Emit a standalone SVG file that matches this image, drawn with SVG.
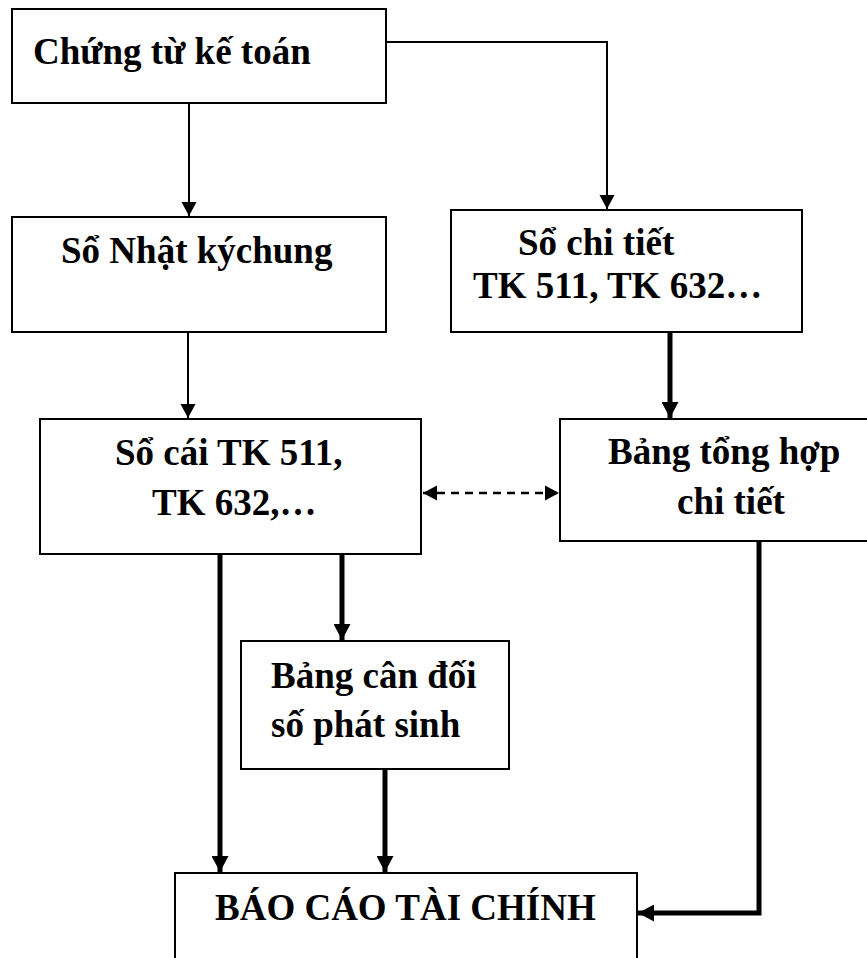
<svg xmlns="http://www.w3.org/2000/svg" width="867" height="958" viewBox="0 0 867 958">
  <defs>
    <style>
      .box { fill: #ffffff; stroke: #000000; stroke-width: 2; }
      .lbl { font-family: "Liberation Serif", "Times New Roman", serif; font-weight: bold; font-size: 37px; fill: #000000; }
      .thin { fill: none; stroke: #000000; stroke-width: 2; }
      .thick { fill: none; stroke: #000000; stroke-width: 5; }
      .dash { fill: none; stroke: #000000; stroke-width: 2.5; stroke-dasharray: 8 6; }
    </style>
    <marker id="tip" viewBox="0 0 14 16" refX="14" refY="8" markerWidth="14" markerHeight="16" markerUnits="userSpaceOnUse" orient="auto-start-reverse">
      <path d="M0,0.5 L14,8 L0,15.5 Z" fill="#000000"/>
    </marker>
    <marker id="tipL" viewBox="0 0 16 17" refX="16" refY="8.5" markerWidth="16" markerHeight="17" markerUnits="userSpaceOnUse" orient="auto-start-reverse">
      <path d="M0,0 L16,8.5 L0,17 Z" fill="#000000"/>
    </marker>
  </defs>

  <rect width="867" height="958" fill="#ffffff"/>

  <!-- connectors -->
  <g id="connectors">
    <path class="thin" d="M386,42 H607 V209" marker-end="url(#tip)"/>
    <path class="thin" d="M189,103 V216" marker-end="url(#tip)"/>
    <path class="thin" d="M188,332 V418" marker-end="url(#tip)"/>
    <path class="thick" d="M670,332 V418" marker-end="url(#tipL)"/>
    <path class="dash" d="M423,493 H559" marker-start="url(#tip)" marker-end="url(#tip)"/>
    <path class="thick" d="M342,554 V640" marker-end="url(#tipL)"/>
    <path class="thick" d="M220,554 V872" marker-end="url(#tipL)"/>
    <path class="thick" d="M385,769 V872" marker-end="url(#tipL)"/>
    <path class="thick" d="M759,540 V913 H638" marker-end="url(#tipL)"/>
  </g>

  <g id="chung-tu">
    <rect class="box" x="12" y="9" width="374" height="94"/>
    <text class="lbl" x="33" y="64">Chứng từ kế toán</text>
  </g>

  <g id="nhat-ky-chung">
    <rect class="box" x="12" y="217" width="374" height="115"/>
    <text class="lbl" x="61" y="263">Sổ Nhật kýchung</text>
  </g>

  <g id="so-chi-tiet">
    <rect class="box" x="451" y="210" width="351" height="122"/>
    <text class="lbl" x="518" y="255">Sổ chi tiết</text>
    <text class="lbl" x="473" y="298">TK 511, TK 632…</text>
  </g>

  <g id="so-cai">
    <rect class="box" x="40" y="419" width="381" height="135"/>
    <text class="lbl" x="115" y="465">Sổ cái TK 511,</text>
    <text class="lbl" x="152" y="515">TK 632,…</text>
  </g>

  <g id="bang-tong-hop">
    <rect class="box" x="560" y="419" width="320" height="122"/>
    <text class="lbl" x="608" y="464">Bảng tổng hợp</text>
    <text class="lbl" x="677" y="514">chi tiết</text>
  </g>

  <g id="can-doi">
    <rect class="box" x="241" y="641" width="268" height="128"/>
    <text class="lbl" x="271" y="688">Bảng cân đối</text>
    <text class="lbl" x="271" y="737">số phát sinh</text>
  </g>

  <g id="bao-cao">
    <rect class="box" x="175" y="873" width="462" height="100"/>
    <text class="lbl" x="215" y="920">BÁO CÁO TÀI CHÍNH</text>
  </g>
</svg>
